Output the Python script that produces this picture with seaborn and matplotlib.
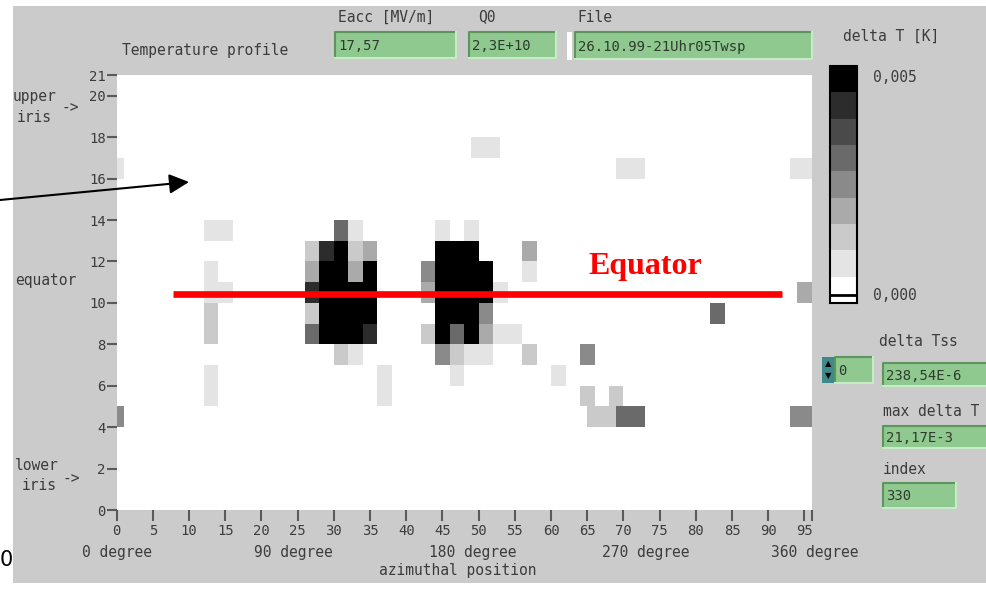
import matplotlib
matplotlib.use("Agg")
import numpy as np
import pandas as pd
import matplotlib.pyplot as plt
from matplotlib.colors import ListedColormap
from matplotlib.patches import Rectangle
from matplotlib.lines import Line2D
import seaborn as sns

# Temperature map, stored as runs of equal grey level
# per sensor row (row, first azimuth column, last azimuth column, level 0..8)
run_row = [17,
           16, 16, 16,
           13, 13, 13, 13, 13,
           12, 12, 12, 12, 12, 12, 12,
           11, 11, 11, 11, 11, 11, 11, 11,
           10, 10, 10, 10, 10, 10, 10,
           9, 9, 9, 9, 9, 9,
           8, 8, 8, 8, 8, 8, 8, 8, 8, 8,
           7, 7, 7, 7, 7, 7, 7,
           6, 6, 6, 6,
           5, 5, 5, 5,
           4, 4, 4, 4]
run_start = [49,
             0, 69, 93,
             12, 30, 32, 44, 48,
             26, 28, 30, 32, 34, 44, 56,
             12, 26, 28, 32, 34, 42, 44, 56,
             12, 26, 28, 42, 44, 52, 94,
             12, 26, 28, 44, 50, 82,
             12, 26, 28, 34, 42, 44, 46, 48, 50, 52,
             30, 32, 44, 46, 48, 56, 64,
             12, 36, 46, 60,
             12, 36, 64, 68,
             0, 65, 69, 93]
run_end = [52,
           0, 72, 95,
           15, 31, 33, 45, 49,
           27, 29, 31, 33, 35, 49, 57,
           13, 27, 31, 33, 35, 43, 51, 57,
           15, 27, 35, 43, 51, 53, 95,
           13, 27, 35, 49, 51, 83,
           13, 27, 33, 35, 43, 45, 47, 49, 51, 55,
           31, 33, 45, 47, 51, 57, 65,
           13, 37, 47, 61,
           13, 37, 65, 69,
           0, 68, 72, 95]
run_level = [1,
             1, 1, 1,
             1, 5, 1, 1, 1,
             2, 7, 8, 2, 3, 8, 3,
             1, 3, 8, 3, 8, 4, 8, 1,
             1, 7, 8, 3, 8, 1, 3,
             2, 2, 8, 8, 4, 5,
             2, 5, 8, 7, 2, 8, 5, 8, 3, 1,
             2, 1, 4, 2, 1, 2, 4,
             1, 1, 1, 1,
             1, 1, 2, 2,
             4, 2, 5, 4]

n_rows = 21
n_cols = 96
dT_max = 0.005          # K, top of the colour scale
n_levels = 8

xtick_vals = [0, 5, 10, 15, 20, 25, 30, 35, 40, 45, 50, 55, 60, 65, 70, 75, 80, 85, 90, 95]
ytick_vals = [0, 2, 4, 6, 8, 10, 12, 14, 16, 18, 20, 21]
grey_levels = ["#ffffff", "#e4e4e4", "#cacaca", "#aaaaaa", "#8a8a8a",
               "#6a6a6a", "#4a4a4a", "#2c2c2c", "#000000"]

# build the delta T grid (K)
grid = np.zeros((n_rows, n_cols))
for r, s, e, lv in zip(run_row, run_start, run_end, run_level):
    grid[r, s:e + 1] = lv * dT_max / n_levels
temp_df = pd.DataFrame(grid, index=range(n_rows), columns=range(n_cols))

W, H = 987, 590
plt.rcParams["font.family"] = "DejaVu Sans Mono"
txt_col = "#3c3c3c"

fig = plt.figure(figsize=(W / 100, H / 100), dpi=100)
fig.patch.set_facecolor("white")


def put(x, y, s, **kw):
    kw.setdefault("fontsize", 10.5)
    kw.setdefault("color", txt_col)
    kw.setdefault("va", "center")
    kw.setdefault("ha", "left")
    fig.text(x / W, 1 - y / H, s, **kw)


def box(x0, y0, x1, y1, **kw):
    fig.add_artist(Rectangle((x0 / W, 1 - y1 / H), (x1 - x0) / W, (y1 - y0) / H,
                             transform=fig.transFigure, **kw))


def field(x0, y0, x1, y1, s):
    box(x0, y0, x1, y1, facecolor="#8fc98f", edgecolor="none", zorder=1)
    fig.add_artist(Line2D([x0 / W, x0 / W, x1 / W], [1 - y1 / H, 1 - y0 / H, 1 - y0 / H],
                          transform=fig.transFigure, color="#5e945e", lw=1.5, zorder=2))
    fig.add_artist(Line2D([x0 / W, x1 / W, x1 / W], [1 - y1 / H, 1 - y1 / H, 1 - y0 / H],
                          transform=fig.transFigure, color="#c6ecc6", lw=1.5, zorder=2))
    put(x0 + 3, (y0 + y1) / 2 + 1, s, fontsize=10, color="#2e3a2e", zorder=3)


# grey front panel
box(13, 6, W + 5, 583, facecolor="#cbcbcb", edgecolor="none", zorder=0)

ax = fig.add_axes([116.7 / W, 1 - 510 / H, (811.7 - 116.7) / W, (510 - 75) / H])
cax = fig.add_axes([830 / W, 1 - 303 / H, 27 / W, (303 - 66) / H])

sns.heatmap(temp_df, ax=ax, cmap=ListedColormap(grey_levels), vmin=0, vmax=dT_max,
            xticklabels=False, yticklabels=False, cbar_ax=cax,
            cbar_kws={"ticks": []})
ax.invert_yaxis()
ax.set_facecolor("white")
for sp in ax.spines.values():
    sp.set_visible(False)

ax.set_xticks(xtick_vals + [96])
ax.set_xticklabels([str(v) for v in xtick_vals] + [""], rotation=0)
ax.set_yticks(ytick_vals)
ax.set_yticklabels([str(v) for v in ytick_vals], rotation=0)
ax.tick_params(axis="x", length=8, width=1.5, color="#5a5a5a", pad=2,
               labelsize=10, labelcolor=txt_col)
ax.tick_params(axis="y", length=7, width=1.5, color="#5a5a5a", pad=1,
               labelsize=10, labelcolor=txt_col)
ax.set_xlabel("")
ax.set_ylabel("")

# red equator marker drawn on top of the map
eq_y = 10.42
ax.plot([7.8, 91.85], [eq_y, eq_y], color="#ff0000", lw=4.8, solid_capstyle="butt")
ax.text(65.1, 11.4, "Equator", color="#ff0000", fontsize=23, fontweight="bold",
        family="Liberation Serif", ha="left", va="baseline")

# colour scale
cbar = ax.collections[0].colorbar
cbar.outline.set_edgecolor("black")
cbar.outline.set_linewidth(1.5)
cax.axhline(0.00016, color="black", lw=2)
put(843, 36, "delta T [K]")
put(873, 78, "0,005")
put(873, 295, "0,000")

# top controls
put(122, 50, "Temperature profile")
put(338, 17, "Eacc [MV/m]")
put(478, 17, "Q0")
put(577, 17, "File")
field(335, 32, 456, 58, "17,57")
field(469, 32, 556, 58, "2,3E+10")
box(567, 32, 572, 60, facecolor="white", edgecolor="none", zorder=1)
field(575, 32, 812, 59, "26.10.99-21Uhr05Twsp")

# right-hand indicators
box(822, 357, 835, 383, facecolor="#3e8a8a", edgecolor="none", zorder=1)
field(835, 357, 873, 383, "0")
put(828.5, 364, "▲", fontsize=6, color="black", ha="center", family="DejaVu Sans", zorder=4)
put(828.5, 376, "▼", fontsize=6, color="black", ha="center", family="DejaVu Sans", zorder=4)
put(879, 342, "delta Tss")
field(883, 363, 992, 386, "238,54E-6")
put(883, 411, "max delta T")
field(883, 426, 992, 448, "21,17E-3")
put(883, 469, "index")
field(883, 483, 956, 508, "330")

# y axis side notes
put(13, 96, "upper")
put(17, 118, "iris")
put(62, 108, "->")
put(15, 281, "equator")
put(15, 466, "lower")
put(22, 486, "iris")
put(63, 479, "->")

# x axis degree notes
for xc, s in zip([117, 293, 473, 646, 815],
                 ["0 degree", "90 degree", "180 degree", "270 degree", "360 degree"]):
    put(xc, 552, s, ha="center")
put(458, 570, "azimuthal position", ha="center")

# stray glyph at the lower left edge of the screenshot
put(0, 560, "0", fontsize=15, color="black", family="DejaVu Sans")

# pointer arrow from outside the panel
ax.annotate("", xy=(189 / W, 1 - 182 / H), xytext=(0, 1 - 200 / H),
            xycoords="figure fraction", textcoords="figure fraction",
            arrowprops=dict(arrowstyle="-|>,head_length=0.6,head_width=0.3",
                            color="black", lw=1.5, mutation_scale=20,
                            shrinkA=0, shrinkB=0),
            annotation_clip=False)

fig.savefig("out.png", dpi=100)
